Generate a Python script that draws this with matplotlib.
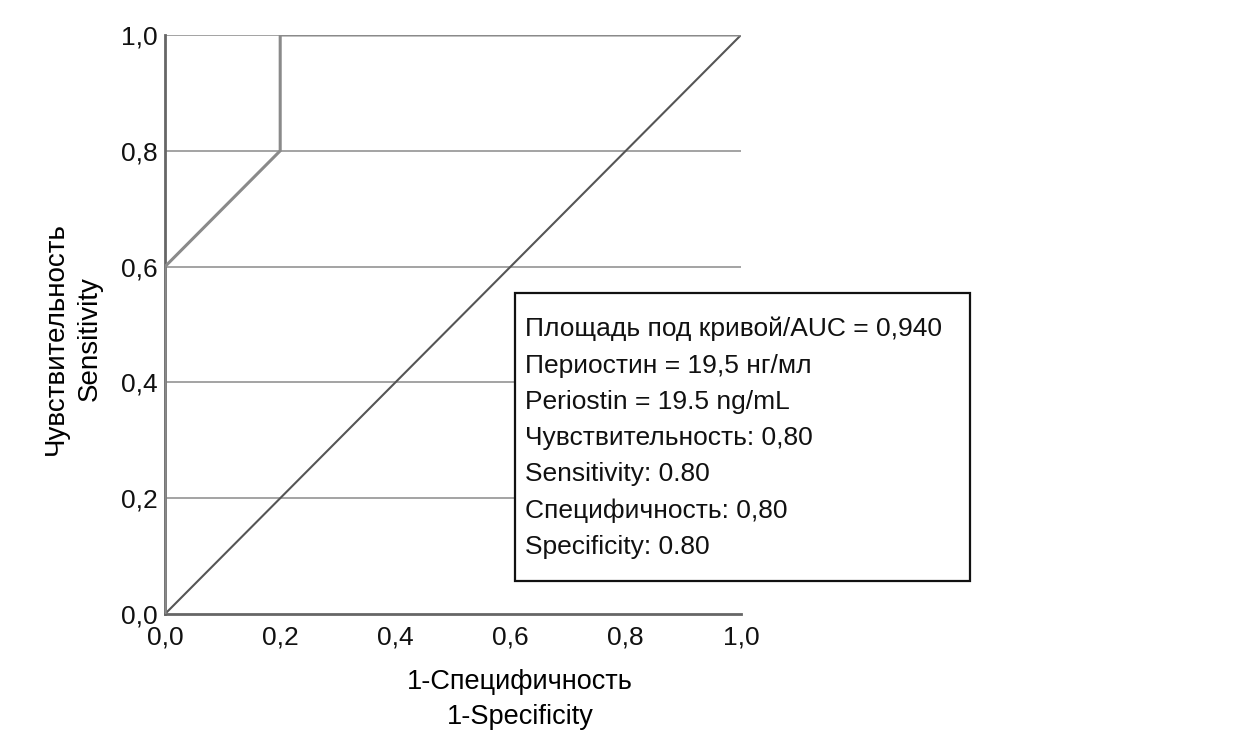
import matplotlib
matplotlib.use("Agg")
import matplotlib.pyplot as plt
from matplotlib import font_manager
from matplotlib.patches import Rectangle

# ROC curve points (1 - specificity, sensitivity)
roc_fpr = [0.0, 0.0, 0.2, 0.2, 1.0]
roc_tpr = [0.0, 0.6, 0.8, 1.0, 1.0]
ref_line = [0.0, 1.0]

tick_vals = [0.0, 0.2, 0.4, 0.6, 0.8, 1.0]
tick_labels = ["0,0", "0,2", "0,4", "0,6", "0,8", "1,0"]

info_lines = [
    "Площадь под кривой/AUC = 0,940",
    "Периостин = 19,5 нг/мл",
    "Periostin = 19.5 ng/mL",
    "Чувствительность: 0,80",
    "Sensitivity: 0.80",
    "Специфичность: 0,80",
    "Specificity: 0.80",
]

installed = {f.name for f in font_manager.fontManager.ttflist}
fam = [f for f in ["Liberation Sans Narrow", "Liberation Sans", "DejaVu Sans"] if f in installed]
plt.rcParams["font.family"] = fam

fig = plt.figure(figsize=(12.4, 7.4), dpi=100)
ax = fig.add_axes([165 / 1240, 1 - 614 / 740, 576 / 1240, 579 / 740])

for v in tick_vals[1:]:
    ax.axhline(v, color="#a3a3a3", lw=1.4, zorder=1)

ax.plot(ref_line, ref_line, color="#555555", lw=1.5, zorder=2)
ax.plot(roc_fpr, roc_tpr, color="#8a8a8a", lw=2.2, zorder=3, solid_joinstyle="miter")

ax.set_xlim(0, 1)
ax.set_ylim(0, 1)
ax.set_xticks(tick_vals)
ax.set_xticklabels(tick_labels)
ax.set_yticks(tick_vals)
ax.set_yticklabels(tick_labels)
ax.tick_params(length=0, labelsize=19, colors="#111111")
ax.tick_params(axis="y", pad=5)
ax.tick_params(axis="x", pad=8)

for s in ["top", "right"]:
    ax.spines[s].set_visible(False)
for s in ["left", "bottom"]:
    ax.spines[s].set_color("#666666")
    ax.spines[s].set_linewidth(2)

ax.set_xlabel("1-Специфичность\n1-Specificity", fontsize=19.5, linespacing=1.45)
ax.xaxis.set_label_coords(0.616, -0.148)
ax.xaxis.label.set_va("center")
ax.set_ylabel("Чувствительность\nSensitivity", fontsize=20, linespacing=1.4)
ax.yaxis.set_label_coords(-0.16, 0.475)
ax.yaxis.label.set_va("center")

# info box
ax.add_patch(Rectangle((0.6076, 0.057), 0.79, 0.4974, transform=ax.transAxes,
                       fc="white", ec="#111111", lw=1.6, zorder=5, clip_on=False))
ax.text(0.625, 0.513, "\n".join(info_lines), transform=ax.transAxes,
        fontsize=19, va="top", ha="left", linespacing=1.64, zorder=6,
        color="#111111")

fig.savefig("out.png", dpi=100)
